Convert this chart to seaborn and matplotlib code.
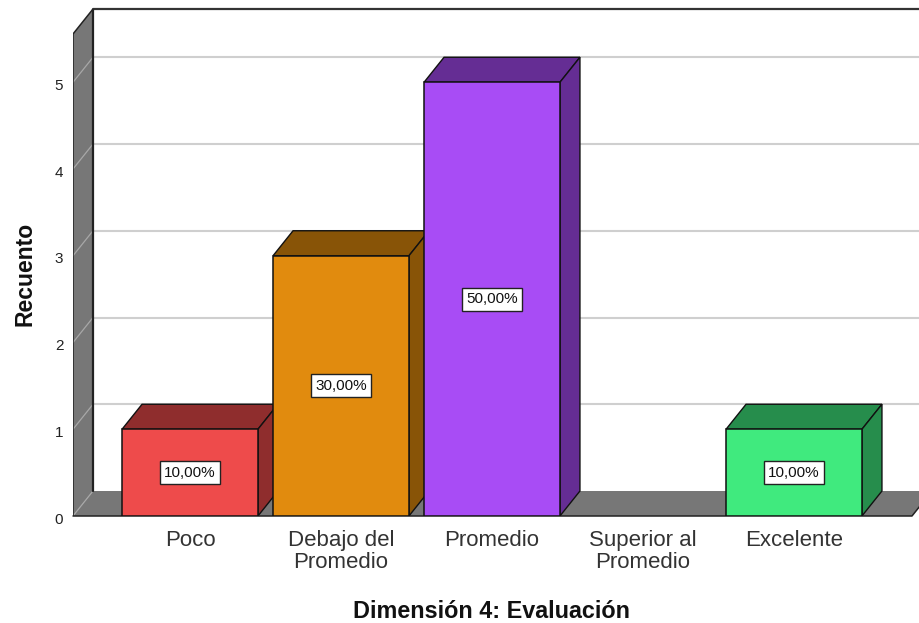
"""Bar chart with a fake 3D box, SPSS style."""

import matplotlib.pyplot as plt
from matplotlib.transforms import ScaledTranslation
import pandas as pd
import seaborn as sns

categories = ["Poco", "Debajo del\nPromedio", "Promedio", "Superior al\nPromedio", "Excelente"]
counts = [1, 3, 5, 0, 1]
percent_labels = ["10,00%", "30,00%", "50,00%", "", "10,00%"]
front_colors = ["#EE4B4B", "#E18B0E", "#A84CF5", "#999999", "#40EA7E"]
side_colors = ["#8F2D2D", "#885407", "#652D94", "#999999", "#268D4C"]
y_ticks = [0, 1, 2, 3, 4, 5]

# pixel scale of the reference
PX_X = 151.0
PX_Y = 86.75
DX = 20 / PX_X
DY = 25 / PX_Y
X_LEFT = (73 - 190) / PX_X
X_RIGHT = (912 - 190) / PX_X
Y_FRONT_TOP = (516 - 34) / PX_Y
WALL_GREY = "#777777"


def draw_box(ax):
    # floor and left wall
    ax.fill([X_LEFT, X_LEFT + DX, X_RIGHT + DX, X_RIGHT], [0, DY, DY, 0],
            color=WALL_GREY, lw=0, zorder=1)
    ax.fill([X_LEFT, X_LEFT + DX, X_LEFT + DX, X_LEFT],
            [0, DY, Y_FRONT_TOP + DY, Y_FRONT_TOP], color=WALL_GREY, lw=0, zorder=1)

    # grid lines bend across the wall
    for tick in y_ticks:
        if tick > 0:
            ax.plot([X_LEFT + DX, X_RIGHT + DX], [tick + DY, tick + DY],
                    color="#CFCFCF", lw=1.5, zorder=1.5, clip_on=True)
        ax.plot([X_LEFT, X_LEFT + DX], [tick, tick + DY],
                color="#A8A8A8", lw=0.9, zorder=1.5)

    # outlines
    ax.plot([X_LEFT + DX, X_LEFT + DX], [DY, Y_FRONT_TOP + DY], color="#222222", lw=1.6, zorder=2)
    ax.plot([X_LEFT + DX, X_RIGHT + DX], [Y_FRONT_TOP + DY, Y_FRONT_TOP + DY],
            color="#333333", lw=1.6, zorder=2, clip_on=False)
    ax.plot([X_LEFT, X_LEFT, X_LEFT + DX], [0, Y_FRONT_TOP, Y_FRONT_TOP + DY],
            color="#222222", lw=1.1, zorder=2)
    ax.plot([X_LEFT, X_RIGHT, X_RIGHT + DX], [0, 0, DY], color="#222222", lw=1.1, zorder=2,
            clip_on=False)


def draw_bar_depth(ax):
    bars = [bar for container in ax.containers for bar in container]
    bars = sorted(bars, key=lambda b: b.get_x())
    for i, bar in enumerate(bars):
        height = bar.get_height()
        if height == 0 or pd.isna(height):
            bar.set_visible(False)
            continue
        x0 = bar.get_x()
        x1 = x0 + bar.get_width()
        z = 3 + i
        bar.set_zorder(z + 0.2)
        ax.fill([x0, x0 + DX, x1 + DX, x1], [height, height + DY, height + DY, height],
                facecolor=side_colors[i], edgecolor="#111111", lw=1.0, zorder=z)
        ax.fill([x1, x1 + DX, x1 + DX, x1], [0, DY, height + DY, height],
                facecolor=side_colors[i], edgecolor="#111111", lw=1.0, zorder=z)
        ax.text(x0 + bar.get_width() / 2, height / 2, percent_labels[i],
                ha="center", va="center", fontsize=11, color="#111111", zorder=z + 0.5,
                bbox=dict(boxstyle="square,pad=0.3", fc="white", ec="#222222", lw=1))


def main():
    sns.set_theme(style="white")
    plt.rcParams["font.family"] = ["Liberation Sans", "DejaVu Sans"]

    df = pd.DataFrame({"categoria": categories, "recuento": counts})

    fig = plt.figure(figsize=(9.2, 6.23), dpi=100)
    ax = fig.add_axes([73 / 920, (623 - 516) / 623, 847 / 920, 507 / 623])

    sns.barplot(data=df, x="categoria", y="recuento", hue="categoria",
                palette=front_colors, width=0.9, saturation=1, legend=False,
                edgecolor="#111111", linewidth=1.1, ax=ax)

    ax.set_xlim(X_LEFT, (920 - 190) / PX_X)
    ax.set_ylim(0, 507 / PX_Y)
    draw_box(ax)
    draw_bar_depth(ax)

    ax.set_yticks(y_ticks)
    ax.tick_params(axis="y", length=0, pad=7, labelsize=11, labelcolor="#222222")
    ax.tick_params(axis="x", length=0, pad=10, labelsize=16, labelcolor="#333333")
    for label in ax.get_xticklabels():
        label.set_linespacing(1.08)
    # y numbers sit a touch below their grid line
    shift = ScaledTranslation(0, -2 / 100, fig.dpi_scale_trans)
    for label in ax.get_yticklabels():
        label.set_transform(label.get_transform() + shift)
    sns.despine(ax=ax, left=True, bottom=True)

    ax.set_xlabel("Dimensión 4: Evaluación", fontsize=16.8, fontweight="bold", color="#111111", va="center")
    ax.xaxis.set_label_coords(492 / 920, 1 - 612 / 623, transform=fig.transFigure)
    ax.set_ylabel("Recuento", fontsize=16.5, fontweight="bold", color="#111111", va="center")
    ax.yaxis.set_label_coords(25 / 920, 1 - 274 / 623, transform=fig.transFigure)

    fig.savefig("out.png", dpi=100, facecolor="white")


if __name__ == "__main__":
    main()
